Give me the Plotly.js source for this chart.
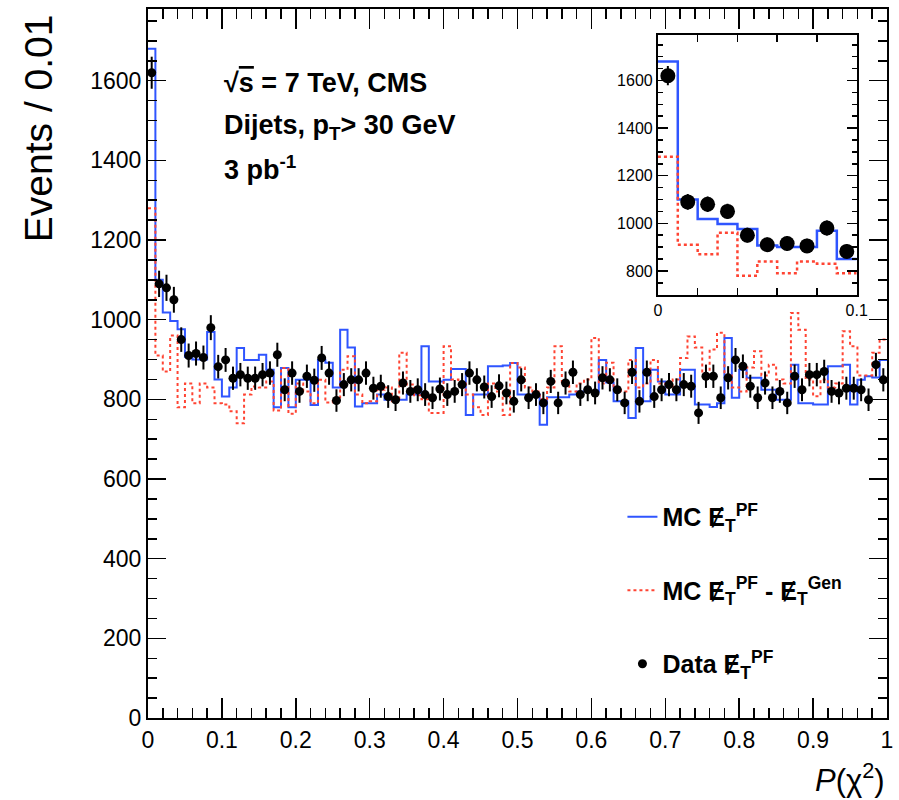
<!DOCTYPE html>
<html>
<head>
<meta charset="utf-8">
<script src="https://cdn.plot.ly/plotly-3.0.1.min.js"></script>
<style>html,body{margin:0;padding:0;background:#fff;}#chart{width:899px;height:800px;}</style>
</head>
<body>
<div id="chart"></div>
<script>
// ---- Data ----
const binWidth = 0.01;
const nBins = 100;

// Data E_T^PF (black points)
const dataCounts = [
 1620,1090,1080,1050,950,910,915,905,980,882,
 899,853,862,853,853,862,866,912,824,866,
 820,858,848,904,866,797,837,849,849,866,
 828,833,807,799,841,820,824,812,804,826,
 812,820,837,866,849,831,807,834,816,795,
 849,804,812,791,845,791,841,868,812,824,
 816,854,849,824,791,868,795,868,807,824,
 837,824,837,833,766,858,858,804,854,899,
 883,833,804,841,804,820,791,858,824,862,
 862,870,820,816,828,828,824,799,887,849
];

// MC E_T^PF (blue solid histogram)
const mcPF = [
 1680,1100,1018,997,976,907,900,900,969,850,
 807,830,929,899,899,912,874,780,879,780,
 849,849,786,899,892,830,975,930,782,790,
 790,812,799,799,799,812,812,933,845,845,
 849,876,876,761,812,812,883,883,885,891,
 812,812,812,736,805,805,805,812,820,820,
 820,899,842,795,795,753,929,795,874,845,
 812,812,874,874,787,787,781,790,954,804,
 874,854,854,824,824,799,799,887,790,790,
 787,787,883,883,887,787,849,858,855,899
];

// MC E_T^PF - E_T^Gen (red dotted histogram)
const mcDiff = [
 1280,910,870,960,780,840,790,840,830,790,
 787,770,740,812,832,830,845,772,879,764,
 840,820,790,849,792,800,874,908,812,790,
 795,824,830,795,917,837,810,800,766,766,
 933,850,840,812,780,761,840,820,761,891,
 880,830,820,800,830,933,840,820,840,850,
 954,840,892,830,820,899,830,840,899,840,
 830,850,904,958,930,860,925,967,860,830,
 820,880,921,860,887,850,840,1017,975,850,
 808,850,830,840,971,933,860,860,917,950
];

const insetBins = 10;

const xTickVals = [0,0.1,0.2,0.3,0.4,0.5,0.6,0.7,0.8,0.9,1];
const xTickText = ["0","0.1","0.2","0.3","0.4","0.5","0.6","0.7","0.8","0.9","1"];

// ---- helpers ----
function centers(n){ const c=[]; for(let i=0;i<n;i++) c.push((i+0.5)*binWidth); return c; }
function stepXY(vals){
  const x=[], y=[];
  for(let i=0;i<vals.length;i++){ x.push(i*binWidth); y.push(vals[i]); }
  x.push(vals.length*binWidth); y.push(vals[vals.length-1]);
  return {x, y};
}

const FONT = "Liberation Sans, Arial, Helvetica, sans-serif";
const BLUE = "#2f55ff";
const RED  = "#ff4433";

const mainBlue = stepXY(mcPF), mainRed = stepXY(mcDiff);
const insBlue = stepXY(mcPF.slice(0,insetBins)), insRed = stepXY(mcDiff.slice(0,insetBins));

const ET = "\u0246";

const traces = [
  {x: mainBlue.x, y: mainBlue.y, type:'scatter', mode:'lines', line:{shape:'hv', color:BLUE, width:2},
   name: "MC "+ET+"<sub>T</sub><sup>PF</sup>", legendgroup:'a', xaxis:'x', yaxis:'y'},
  {x: mainRed.x, y: mainRed.y, type:'scatter', mode:'lines', line:{shape:'hv', color:RED, width:2, dash:'3px,3px'},
   name: "MC "+ET+"<sub>T</sub><sup>PF</sup> - "+ET+"<sub>T</sub><sup>Gen</sup>", legendgroup:'b', xaxis:'x', yaxis:'y'},
  {x: centers(nBins), y: dataCounts, type:'scatter', mode:'markers',
   marker:{color:'black', size:9},
   error_y:{type:'sqrt', color:'black', thickness:2, width:0},
   error_x:{type:'constant', value:binWidth/2, color:'black', thickness:2, width:0},
   name: "Data "+ET+"<sub>T</sub><sup>PF</sup>", legendgroup:'c', xaxis:'x', yaxis:'y'},
  // inset
  {x: insBlue.x, y: insBlue.y, type:'scatter', mode:'lines', line:{shape:'hv', color:BLUE, width:2.5},
   showlegend:false, xaxis:'x2', yaxis:'y2'},
  {x: insRed.x, y: insRed.y, type:'scatter', mode:'lines', line:{shape:'hv', color:RED, width:2.5, dash:'3px,3px'},
   showlegend:false, xaxis:'x2', yaxis:'y2'},
  {x: centers(insetBins), y: dataCounts.slice(0,insetBins), type:'scatter', mode:'markers',
   marker:{color:'black', size:15},
   error_y:{type:'sqrt', color:'black', thickness:2, width:0},
   showlegend:false, xaxis:'x2', yaxis:'y2'}
];

const layout = {
  width: 899, height: 800,
  margin: {l:148, r:12, t:9, b:82},
  paper_bgcolor:'white', plot_bgcolor:'white',
  font: {family: FONT, color:'black'},
  showlegend: true,
  legend: {x:0.642, y:0.316, xanchor:'left', yanchor:'top', bgcolor:'rgba(0,0,0,0)',
           font:{family:FONT, size:25, color:'black', weight:'bold'},
           traceorder:'grouped', tracegroupgap:38, itemwidth:30},
  xaxis: {domain:[0,1], range:[0,1], showgrid:false, zeroline:false,
          showline:true, linecolor:'black', linewidth:2, mirror:'allticks',
          ticks:'inside', ticklen:20, tickwidth:1.5, tickcolor:'black',
          tickvals:xTickVals, ticktext:xTickText,
          tickfont:{family:FONT, size:23, color:'black'},
          minor:{dtick:0.02, ticklen:10, tickwidth:1.5, tickcolor:'black', ticks:'inside', showgrid:false}},
  yaxis: {domain:[0,1], range:[0,1780], showgrid:false, zeroline:false,
          showline:true, linecolor:'black', linewidth:2, mirror:'allticks',
          ticks:'inside', ticklen:18, tickwidth:1.5, tickcolor:'black',
          dtick:200, tick0:0,
          tickfont:{family:FONT, size:23, color:'black'},
          minor:{dtick:50, ticklen:9, tickwidth:1.5, tickcolor:'black', ticks:'inside', showgrid:false}},
  xaxis2: {domain:[0.690,0.959], anchor:'y2', range:[0,0.1], showgrid:false, zeroline:false,
          showline:true, linecolor:'black', linewidth:2, mirror:'allticks',
          ticks:'inside', ticklen:10, tickwidth:1.5, tickcolor:'black',
          tickvals:[0,0.1], ticktext:["0","0.1"],
          tickfont:{family:FONT, size:16, color:'black'},
          minor:{dtick:0.02, ticklen:7, tickwidth:1.5, tickcolor:'black', ticks:'inside', showgrid:false}},
  yaxis2: {domain:[0.597,0.963], anchor:'x2', range:[700,1790], showgrid:false, zeroline:false,
          showline:true, linecolor:'black', linewidth:2, mirror:'allticks',
          ticks:'inside', ticklen:10, tickwidth:1.5, tickcolor:'black',
          dtick:200, tick0:0,
          tickfont:{family:FONT, size:16, color:'black'},
          minor:{dtick:50, ticklen:5, tickwidth:1.5, tickcolor:'black', ticks:'inside', showgrid:false}},
  annotations: [
    {xref:'paper', yref:'paper', x:-0.148, y:0.995, xanchor:'center', yanchor:'top', textangle:-90,
     text:'Events / 0.01', showarrow:false, font:{family:FONT, size:39, color:'black'}},
    {xref:'paper', yref:'paper', x:1.0, y:-0.053, xanchor:'right', yanchor:'top',
     text:'<i>P</i>(χ<sup>2</sup>)', showarrow:false, font:{family:FONT, size:31, color:'black'}},
    {xref:'paper', yref:'paper', x:0.100, y:0.896, xanchor:'left', yanchor:'middle',
     text:'<b>√<span style="text-decoration:overline">s</span> = 7 TeV, CMS</b>', showarrow:false, font:{family:FONT, size:27, color:'black'}},
    {xref:'paper', yref:'paper', x:0.100, y:0.834, xanchor:'left', yanchor:'middle',
     text:'<b>Dijets, p<sub>T</sub>> 30 GeV</b>', showarrow:false, font:{family:FONT, size:27, color:'black'}},
    {xref:'paper', yref:'paper', x:0.100, y:0.776, xanchor:'left', yanchor:'middle',
     text:'<b>3 pb<sup>-1</sup></b>', showarrow:false, font:{family:FONT, size:27, color:'black'}}
  ]
};

Plotly.newPlot('chart', traces, layout, {displayModeBar:false, staticPlot:true});
</script>
</body>
</html>
